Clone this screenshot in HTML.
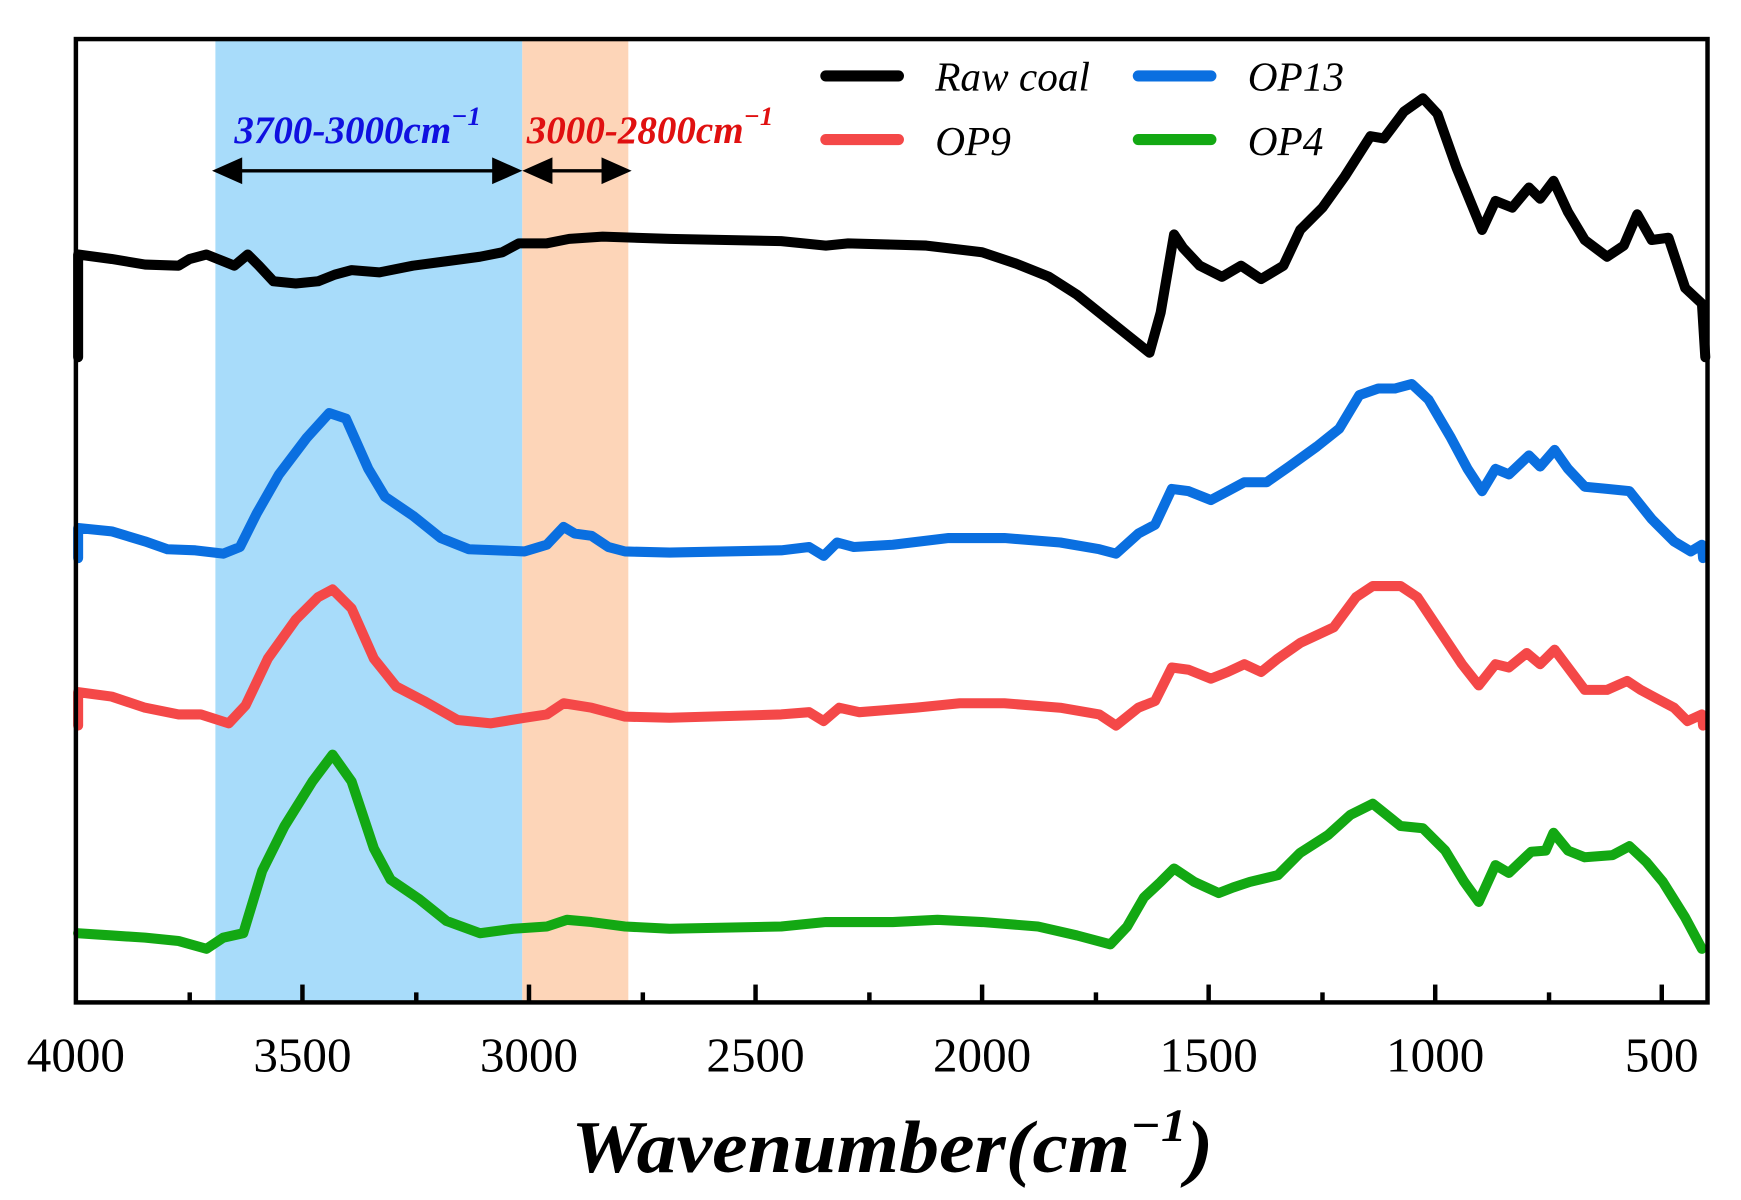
<!DOCTYPE html>
<html><head><meta charset="utf-8"><style>html,body{margin:0;padding:0;background:#fff}svg{display:block}</style></head>
<body>
<svg width="1741" height="1200" viewBox="0 0 1560 1075" preserveAspectRatio="none" xmlns="http://www.w3.org/2000/svg" font-family="'Liberation Serif',serif">
<rect x="193" y="35" width="275" height="863" fill="#a8dcfa"/>
<rect x="468" y="35" width="95" height="863" fill="#fdd5b8"/>
<g fill="none" stroke-width="9" stroke-linejoin="round" stroke-linecap="round">
<polyline stroke="#000" points="70,320 70,228 100,232 130,237 160,238 170,232 185,228 200,234 210,238 222,228 232,238 245,252 265,254 285,252 300,246 315,242 340,244 370,238 400,234 430,230 450,226 465,218 490,218 510,214 540,212 600,214 700,216 740,220 760,218 830,220 880,226 910,236 940,248 965,264 990,284 1010,300 1030,316 1040,280 1052,210 1060,222 1075,238 1095,248 1112,238 1130,250 1150,238 1165,206 1185,186 1205,158 1228,122 1240,124 1258,100 1275,88 1288,102 1305,150 1328,206 1340,180 1355,186 1370,168 1380,178 1392,162 1405,190 1420,215 1440,230 1455,220 1467,192 1480,215 1495,213 1510,258 1525,272 1528,320"/>
<polyline stroke="#0a6fe0" points="70,500 70,473 100,476 130,485 150,492 175,493 200,496 215,490 230,460 250,425 275,392 295,370 310,375 330,420 345,445 370,462 395,482 420,492 470,494 490,488 505,472 515,478 530,480 545,490 560,494 600,495 700,493 725,490 738,498 750,486 765,490 800,488 850,482 900,482 950,486 985,492 1000,496 1020,478 1035,470 1050,438 1065,440 1085,448 1100,440 1115,432 1135,432 1155,418 1180,400 1200,384 1218,354 1235,348 1250,348 1265,344 1280,358 1300,392 1315,420 1328,440 1340,420 1352,425 1370,408 1380,418 1393,403 1405,420 1420,436 1440,438 1460,440 1480,465 1500,485 1515,494 1525,488 1526,500"/>
<polyline stroke="#f44848" points="70,650 70,620 100,624 130,634 160,640 180,640 205,648 220,632 240,590 265,555 285,535 298,528 315,545 335,590 355,615 380,628 410,645 440,648 470,643 490,640 505,630 530,634 560,642 600,643 700,640 725,638 738,646 752,634 770,638 820,634 860,630 900,630 950,634 985,640 1000,650 1020,634 1035,628 1050,598 1065,600 1085,608 1100,602 1115,595 1130,602 1145,590 1165,576 1195,562 1215,535 1230,525 1255,525 1270,535 1290,565 1310,595 1325,614 1340,595 1352,598 1368,585 1380,595 1393,582 1405,598 1420,618 1440,618 1458,610 1470,618 1485,626 1500,634 1512,646 1525,640 1526,650"/>
<polyline stroke="#13a813" points="70,836 100,838 130,840 160,843 185,850 200,840 218,836 235,780 255,740 280,700 298,676 315,700 335,760 350,788 375,805 400,825 430,836 460,832 490,830 508,824 530,826 560,830 600,832 700,830 740,826 800,826 840,824 880,826 930,830 965,838 995,846 1010,830 1025,804 1040,790 1052,778 1070,790 1092,800 1105,795 1120,790 1145,784 1165,764 1190,748 1210,730 1230,720 1255,740 1275,742 1295,762 1312,790 1325,808 1340,775 1352,782 1372,763 1385,762 1392,746 1405,762 1420,768 1445,766 1460,758 1475,772 1490,790 1510,822 1525,850"/>
</g>
<rect x="68" y="35" width="1462" height="863" fill="none" stroke="#000" stroke-width="4"/>
<g stroke="#000" stroke-width="4">
<line x1="271" y1="898" x2="271" y2="882"/><line x1="474" y1="898" x2="474" y2="882"/><line x1="677" y1="898" x2="677" y2="882"/><line x1="880" y1="898" x2="880" y2="882"/><line x1="1083" y1="898" x2="1083" y2="882"/><line x1="1286" y1="898" x2="1286" y2="882"/><line x1="1489" y1="898" x2="1489" y2="882"/>
<line x1="170" y1="898" x2="170" y2="889"/><line x1="373" y1="898" x2="373" y2="889"/><line x1="576" y1="898" x2="576" y2="889"/><line x1="779" y1="898" x2="779" y2="889"/><line x1="982" y1="898" x2="982" y2="889"/><line x1="1185" y1="898" x2="1185" y2="889"/><line x1="1388" y1="898" x2="1388" y2="889"/>
</g>
<g font-size="44" text-anchor="middle" fill="#000">
<text x="68" y="960">4000</text><text x="271" y="960">3500</text><text x="474" y="960">3000</text><text x="677" y="960">2500</text><text x="880" y="960">2000</text><text x="1083" y="960">1500</text><text x="1286" y="960">1000</text><text x="1489" y="960">500</text>
</g>
<text x="512" y="1050" font-size="66" font-weight="bold" font-style="italic" textLength="575" lengthAdjust="spacingAndGlyphs">Wavenumber(cm<tspan font-size="42" dy="-28">−1</tspan><tspan dy="28">)</tspan></text>
<g stroke-width="10" stroke-linecap="round">
<line x1="740" y1="68" x2="805" y2="68" stroke="#000"/><line x1="1020" y1="68" x2="1085" y2="68" stroke="#0a6fe0"/>
<line x1="740" y1="125" x2="805" y2="125" stroke="#f44848"/><line x1="1020" y1="125" x2="1085" y2="125" stroke="#13a813"/>
</g>
<g font-size="37" font-style="italic">
<text x="838" y="81">Raw coal</text><text x="1118" y="81">OP13</text><text x="838" y="139">OP9</text><text x="1118" y="139">OP4</text>
</g>
<text x="210" y="128" font-size="35" font-weight="bold" font-style="italic" fill="#1010e0">3700-3000cm<tspan font-size="24" dy="-16">−1</tspan></text>
<text x="472" y="128" font-size="35" font-weight="bold" font-style="italic" fill="#e01010">3000-2800cm<tspan font-size="24" dy="-16">−1</tspan></text>
<g stroke="#000" stroke-width="3"><line x1="205" y1="153" x2="455" y2="153"/><line x1="482" y1="153" x2="552" y2="153"/></g>
<g fill="#000">
<polygon points="190,153 217,141 217,165"/><polygon points="468,153 441,141 441,165"/>
<polygon points="468,153 495,141 495,165"/><polygon points="566,153 539,141 539,165"/>
</g>
</svg>
</body></html>
